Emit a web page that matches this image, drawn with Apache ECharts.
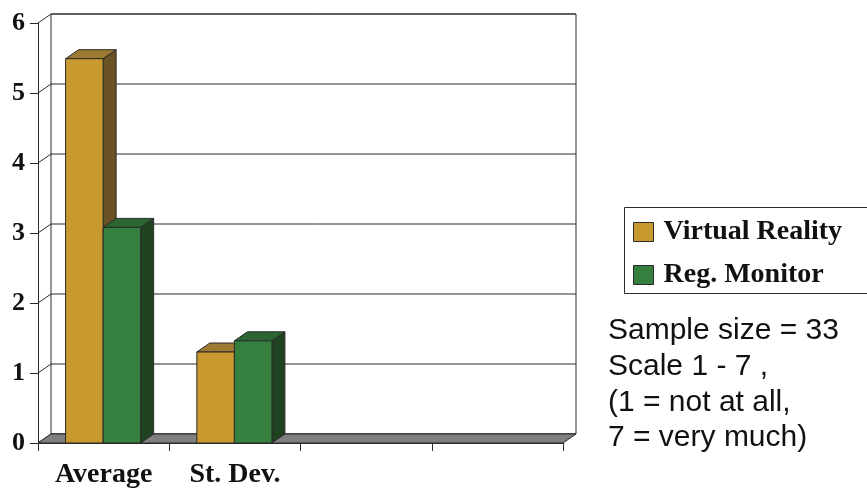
<!DOCTYPE html>
<html>
<head>
<meta charset="utf-8">
<script src="https://cdn.jsdelivr.net/npm/echarts@6/dist/echarts.min.js"></script>
<style>
  html, body { margin: 0; padding: 0; background: #fff; }
  #chart { width: 867px; height: 491px; }
</style>
</head>
<body>
<div id="chart"></div>
<script>
// Categories along the floor (two empty slots keep the wide floor)
const categories = ['Average', 'St. Dev.', '', ''];
// Ratings per display type
const virtualReality = [5.49, 1.30];
const regMonitor = [3.08, 1.46];
const seriesNames = ['Virtual Reality', 'Reg. Monitor'];
// Value-axis ticks
const yTicks = [0, 1, 2, 3, 4, 5, 6];
const noteLines = ['Sample size = 33', 'Scale 1 - 7 ,', '(1 = not at all,', '7 = very much)'];

// Depth offset of the pseudo-3D box
const DX = 13, DY = -9;
const EDGE = '#2b2b2b';
const SERIF = "'Liberation Serif', 'Times New Roman', serif";
const SANS = "'Liberation Sans', Arial, sans-serif";

const palette = [
  { front: '#C8992F', side: '#6A5225', top: '#9C7A31' },
  { front: '#36803F', side: '#1F4321', top: '#2B6531' }
];

// Back wall, floor, side-wall diagonals and wall gridlines
function renderFrame(params, api) {
  const cs = params.coordSys;
  const L = cs.x, R = cs.x + cs.width, T = cs.y, B = cs.y + cs.height;
  const children = [];
  children.push({
    type: 'rect',
    shape: { x: L + DX, y: T + DY, width: R - L, height: B - T },
    style: { fill: '#fff', stroke: EDGE, lineWidth: 1 }
  });
  yTicks.forEach(function (v) {
    const y = api.coord([0, v])[1];
    children.push({
      type: 'line',
      shape: { x1: L + DX, y1: y + DY, x2: R + DX, y2: y + DY },
      style: { stroke: EDGE, lineWidth: 1 }
    });
    children.push({
      type: 'line',
      shape: { x1: L, y1: y, x2: L + DX, y2: y + DY },
      style: { stroke: EDGE, lineWidth: 1 }
    });
  });
  children.push({
    type: 'polygon',
    shape: { points: [[L, B], [L + DX, B + DY], [R + DX, B + DY], [R, B]] },
    style: { fill: '#808080', stroke: EDGE, lineWidth: 1 }
  });
  return { type: 'group', children: children };
}

// One 3D column: front face, right side and top
function makeBarRenderer(slot) {
  const c = palette[slot];
  return function (params, api) {
    const cat = api.value(0), val = api.value(1);
    const top = api.coord([cat, val]);
    const base = api.coord([cat, 0]);
    const band = api.size([1, 0])[0];
    const bw = band * 0.286;
    const x0 = top[0] - bw - 0.5 + slot * bw;
    const x1 = x0 + bw;
    const yt = top[1], yb = base[1];
    return {
      type: 'group',
      children: [
        {
          type: 'polygon',
          shape: { points: [[x1, yt], [x1 + DX, yt + DY], [x1 + DX, yb + DY], [x1, yb]] },
          style: { fill: c.side, stroke: EDGE, lineWidth: 1 }
        },
        {
          type: 'polygon',
          shape: { points: [[x0, yt], [x0 + DX, yt + DY], [x1 + DX, yt + DY], [x1, yt]] },
          style: { fill: c.top, stroke: EDGE, lineWidth: 1 }
        },
        {
          type: 'rect',
          shape: { x: x0, y: yt, width: bw, height: yb - yt },
          style: { fill: c.front, stroke: EDGE, lineWidth: 1 }
        }
      ]
    };
  };
}

function toPairs(values) {
  return values.map(function (v, i) { return [i, v]; });
}

const chart = echarts.init(document.getElementById('chart'), null, { renderer: 'canvas' });
chart.setOption({
  backgroundColor: '#fff',
  animation: false,
  grid: { left: 38, right: 304, top: 23, bottom: 48 },
  xAxis: {
    type: 'category',
    data: categories,
    boundaryGap: true,
    axisLine: { show: true, lineStyle: { color: EDGE, width: 1 } },
    axisTick: { show: true, interval: 0, length: 8, lineStyle: { color: EDGE } },
    axisLabel: {
      interval: 0, margin: 18,
      fontFamily: SERIF, fontWeight: 'bold', fontSize: 28, color: '#111'
    },
    splitLine: { show: false }
  },
  yAxis: {
    type: 'value',
    min: 0, max: 6, interval: 1,
    axisLine: { show: true, lineStyle: { color: EDGE, width: 1 } },
    axisTick: { show: true, length: 8, lineStyle: { color: EDGE } },
    axisLabel: {
      margin: 13,
      fontFamily: SERIF, fontWeight: 'bold', fontSize: 26, color: '#111'
    },
    splitLine: { show: false }
  },
  legend: {
    orient: 'vertical',
    left: 624, top: 207,
    padding: [10, 20, 3, 9],
    itemWidth: 20, itemHeight: 19, itemGap: 13,
    borderWidth: 0,
    icon: 'rect',
    itemStyle: { borderColor: EDGE, borderWidth: 1 },
    textStyle: {
      fontFamily: SERIF, fontWeight: 'bold', fontSize: 28, color: '#111',
      lineHeight: 30, padding: [0, 0, 0, 5]
    },
    data: seriesNames
  },
  graphic: [
    {
      // legend frame, open on the right where it runs past the page edge
      type: 'polyline',
      shape: { points: [[870, 207.5], [624.5, 207.5], [624.5, 293.5], [870, 293.5]] },
      style: { stroke: EDGE, lineWidth: 1, fill: null }
    },
    {
      type: 'text',
      left: 608, top: 313,
      style: {
        text: noteLines.join('\n'),
        font: '30px ' + SANS,
        lineHeight: 35.7,
        fill: '#111'
      }
    }
  ],
  series: [
    {
      type: 'custom', name: 'frame', z: 1, silent: true,
      renderItem: renderFrame,
      data: [[0, 0]],
      encode: { x: 0, y: 1 }
    },
    {
      type: 'custom', name: seriesNames[0], z: 3,
      itemStyle: { color: palette[0].front },
      renderItem: makeBarRenderer(0),
      data: toPairs(virtualReality),
      encode: { x: 0, y: 1 }
    },
    {
      type: 'custom', name: seriesNames[1], z: 3,
      itemStyle: { color: palette[1].front },
      renderItem: makeBarRenderer(1),
      data: toPairs(regMonitor),
      encode: { x: 0, y: 1 }
    }
  ]
});
</script>
</body>
</html>
